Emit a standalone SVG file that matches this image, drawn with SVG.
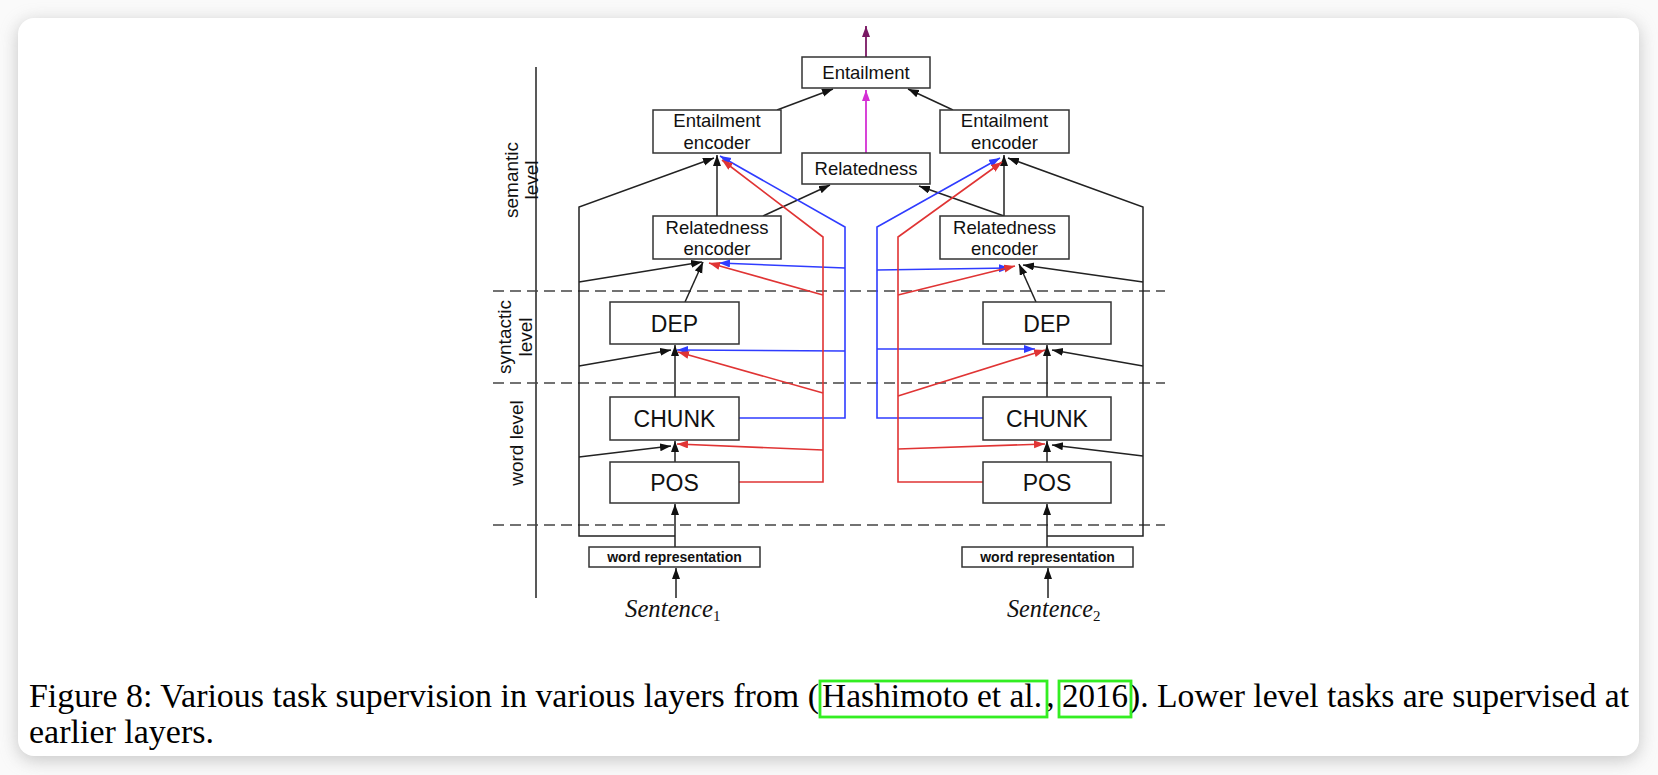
<svg xmlns="http://www.w3.org/2000/svg" width="1658" height="775" viewBox="0 0 1658 775">
<style>
.box{fill:#fff;stroke:#333;stroke-width:1.5}
.lbl{font-family:"Liberation Sans",Arial,sans-serif;font-size:18.5px;fill:#111;text-anchor:middle}
.big{font-family:"Liberation Sans",Arial,sans-serif;font-size:23px;fill:#111;text-anchor:middle}
.wr{font-family:"Liberation Sans",Arial,sans-serif;font-size:14px;font-weight:bold;fill:#111;text-anchor:middle}
.lvl{font-family:"Liberation Sans",Arial,sans-serif;font-size:19px;fill:#111;text-anchor:middle}
.sent{font-family:"Liberation Serif","Times New Roman",serif;font-style:italic;font-size:25px;fill:#111}
.sub{font-family:"Liberation Serif","Times New Roman",serif;font-size:15px;fill:#111}
.cap{font-family:"Liberation Serif","Times New Roman",serif;font-size:34.5px;fill:#000}
.k{fill:none;stroke:#222;stroke-width:1.5}
.b{fill:none;stroke:#2f3cff;stroke-width:1.6}
.r{fill:none;stroke:#e03434;stroke-width:1.6}
.dash{fill:none;stroke:#444;stroke-width:1.6;stroke-dasharray:11 6}
.cite{fill:none;stroke:#33ee22;stroke-width:2.8}
</style>
<defs>
<marker id="ak" markerUnits="userSpaceOnUse" markerWidth="12" markerHeight="10" refX="11" refY="4" orient="auto"><path d="M0,0 L11,4 L0,8 z" fill="#111"/></marker>
<marker id="ab" markerUnits="userSpaceOnUse" markerWidth="12" markerHeight="10" refX="11" refY="4" orient="auto"><path d="M0,0 L11,4 L0,8 z" fill="#2f3cff"/></marker>
<marker id="ar" markerUnits="userSpaceOnUse" markerWidth="12" markerHeight="10" refX="11" refY="4" orient="auto"><path d="M0,0 L11,4 L0,8 z" fill="#e03434"/></marker>
<marker id="am" markerUnits="userSpaceOnUse" markerWidth="12" markerHeight="10" refX="11" refY="4" orient="auto"><path d="M0,0 L11,4 L0,8 z" fill="#d42fd4"/></marker>
<marker id="ap" markerUnits="userSpaceOnUse" markerWidth="12" markerHeight="10" refX="11" refY="4" orient="auto"><path d="M0,0 L11,4 L0,8 z" fill="#7a1864"/></marker>
<filter id="sh" x="-5%" y="-10%" width="110%" height="125%"><feGaussianBlur stdDeviation="9"/></filter>
</defs>
<rect x="0" y="0" width="1658" height="775" fill="#fafafa"/>
<rect x="18" y="22" width="1621" height="738" rx="16" fill="#9a9a9a" opacity="0.55" filter="url(#sh)"/>
<rect x="18" y="18" width="1621" height="738" rx="16" fill="#fff"/>

<g id="axis">
<line x1="536" y1="67" x2="536" y2="598" class="k"/>
<text class="lvl" transform="translate(518,180) rotate(-90)">semantic</text>
<text class="lvl" transform="translate(538,180) rotate(-90)">level</text>
<text class="lvl" transform="translate(511,337) rotate(-90)">syntactic</text>
<text class="lvl" transform="translate(532,337) rotate(-90)">level</text>
<text class="lvl" transform="translate(523,443) rotate(-90)">word level</text>
<line x1="493" y1="291" x2="1165" y2="291" class="dash"/>
<line x1="493" y1="383" x2="1165" y2="383" class="dash"/>
<line x1="493" y1="525" x2="1165" y2="525" class="dash"/>
</g>

<g id="connectors">
<line x1="866" y1="57" x2="866" y2="26" stroke="#7a1864" stroke-width="1.8" marker-end="url(#ap)"/>
<line x1="866" y1="153" x2="866" y2="90" stroke="#d42fd4" stroke-width="1.8" marker-end="url(#am)"/>
<path class="k" d="M777,110 L833,89" marker-end="url(#ak)"/>
<path class="k" d="M953,110 L908,89" marker-end="url(#ak)"/>
<path class="k" d="M763,216 L830,185" marker-end="url(#ak)"/>
<path class="k" d="M1004,216 L919,186" marker-end="url(#ak)"/>
<path class="k" d="M717,216 L717,155" marker-end="url(#ak)"/>
<path class="k" d="M1004,216 L1004,155" marker-end="url(#ak)"/>
<path class="k" d="M675,536 L579,536 L579,207 L714,158" marker-end="url(#ak)"/>
<path class="k" d="M1047,536 L1143,536 L1143,207 L1008,158" marker-end="url(#ak)"/>
<path class="k" d="M579,282 L702,262" marker-end="url(#ak)"/>
<path class="k" d="M1143,282 L1023,265" marker-end="url(#ak)"/>
<path class="k" d="M579,366 L671,350" marker-end="url(#ak)"/>
<path class="k" d="M1143,366 L1052,350" marker-end="url(#ak)"/>
<path class="k" d="M579,457 L671,446" marker-end="url(#ak)"/>
<path class="k" d="M1143,456 L1052,445" marker-end="url(#ak)"/>
<path class="k" d="M685,302 L703,262" marker-end="url(#ak)"/>
<path class="k" d="M1036,302 L1019,264" marker-end="url(#ak)"/>
<path class="k" d="M675,397 L675,345" marker-end="url(#ak)"/>
<path class="k" d="M1047,397 L1047,345" marker-end="url(#ak)"/>
<path class="k" d="M675,462 L675,441" marker-end="url(#ak)"/>
<path class="k" d="M1047,462 L1047,441" marker-end="url(#ak)"/>
<path class="k" d="M675,547 L675,504" marker-end="url(#ak)"/>
<path class="k" d="M1047,547 L1047,504" marker-end="url(#ak)"/>
<path class="k" d="M676,598 L676,568" marker-end="url(#ak)"/>
<path class="k" d="M1048,598 L1048,568" marker-end="url(#ak)"/>

<path class="b" d="M739,418 L845,418 L845,227 L720,156" marker-end="url(#ab)"/>
<path class="b" d="M845,268 L719,263" marker-end="url(#ab)"/>
<path class="b" d="M845,351 L677,350" marker-end="url(#ab)"/>
<path class="r" d="M739,482 L823,482 L823,237 L722,160" marker-end="url(#ar)"/>
<path class="r" d="M823,450 L677,444" marker-end="url(#ar)"/>
<path class="r" d="M823,393 L678,352" marker-end="url(#ar)"/>
<path class="r" d="M823,295 L709,263" marker-end="url(#ar)"/>

<path class="b" d="M983,418 L877,418 L877,227 L1000,158" marker-end="url(#ab)"/>
<path class="b" d="M877,270 L1010,268" marker-end="url(#ab)"/>
<path class="b" d="M877,349 L1035,349" marker-end="url(#ab)"/>
<path class="r" d="M983,482 L898,482 L898,237 L1002,162" marker-end="url(#ar)"/>
<path class="r" d="M898,295 L1015,266" marker-end="url(#ar)"/>
<path class="r" d="M898,396 L1045,350" marker-end="url(#ar)"/>
<path class="r" d="M898,449 L1045,444" marker-end="url(#ar)"/>
</g>

<g id="entailment"><rect class="box" x="802" y="57" width="128" height="31"/><text class="lbl" x="866" y="79">Entailment</text></g>
<g id="relatedness"><rect class="box" x="802" y="153" width="128" height="31"/><text class="lbl" x="866" y="175">Relatedness</text></g>
<g id="ent-enc-1"><rect class="box" x="653" y="110" width="128" height="43"/><text class="lbl" x="717" y="127">Entailment</text><text class="lbl" x="717" y="149">encoder</text></g>
<g id="ent-enc-2"><rect class="box" x="940" y="110" width="129" height="43"/><text class="lbl" x="1004.5" y="127">Entailment</text><text class="lbl" x="1004.5" y="149">encoder</text></g>
<g id="rel-enc-1"><rect class="box" x="653" y="216" width="128" height="43"/><text class="lbl" x="717" y="233.5">Relatedness</text><text class="lbl" x="717" y="255">encoder</text></g>
<g id="rel-enc-2"><rect class="box" x="940" y="216" width="129" height="43"/><text class="lbl" x="1004.5" y="233.5">Relatedness</text><text class="lbl" x="1004.5" y="255">encoder</text></g>
<g id="dep-1"><rect class="box" x="610" y="302" width="129" height="42"/><text class="big" x="674.5" y="331.5">DEP</text></g>
<g id="dep-2"><rect class="box" x="983" y="302" width="128" height="42"/><text class="big" x="1047" y="331.5">DEP</text></g>
<g id="chunk-1"><rect class="box" x="610" y="397" width="129" height="43"/><text class="big" x="674.5" y="426.5">CHUNK</text></g>
<g id="chunk-2"><rect class="box" x="983" y="397" width="128" height="43"/><text class="big" x="1047" y="426.5">CHUNK</text></g>
<g id="pos-1"><rect class="box" x="610" y="462" width="129" height="41"/><text class="big" x="674.5" y="490.5">POS</text></g>
<g id="pos-2"><rect class="box" x="983" y="462" width="128" height="41"/><text class="big" x="1047" y="490.5">POS</text></g>
<g id="wordrep-1"><rect class="box" x="589" y="547" width="171" height="20"/><text class="wr" x="674.5" y="562">word representation</text></g>
<g id="wordrep-2"><rect class="box" x="962" y="547" width="171" height="20"/><text class="wr" x="1047.5" y="562">word representation</text></g>
<g id="sentence-1"><text class="sent" x="625" y="617" textLength="88" lengthAdjust="spacingAndGlyphs">Sentence</text><text class="sub" x="713" y="621">1</text></g>
<g id="sentence-2"><text class="sent" x="1007" y="617" textLength="86" lengthAdjust="spacingAndGlyphs">Sentence</text><text class="sub" x="1093" y="621">2</text></g>

<g id="caption">
<text class="cap" x="29" y="707" textLength="790" lengthAdjust="spacingAndGlyphs">Figure 8: Various task supervision in various layers from (</text>
<text class="cap" x="822" y="707" textLength="220" lengthAdjust="spacingAndGlyphs">Hashimoto et al.</text>
<text class="cap" x="1046" y="707">,</text>
<text class="cap" x="1062" y="707" textLength="66" lengthAdjust="spacingAndGlyphs">2016</text>
<text class="cap" x="1129" y="707" textLength="500" lengthAdjust="spacingAndGlyphs">). Lower level tasks are supervised at</text>
<text class="cap" x="29" y="743" textLength="185" lengthAdjust="spacingAndGlyphs">earlier layers.</text>
<rect class="cite" x="820" y="681" width="227" height="36"/>
<rect class="cite" x="1059" y="681" width="72" height="36"/>
</g>
</svg>
